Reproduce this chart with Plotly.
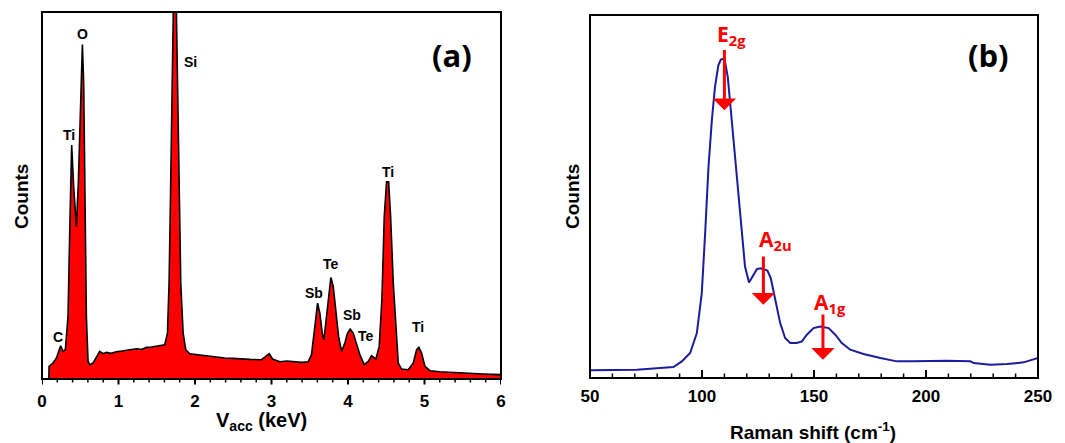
import plotly.graph_objects as go

# ---------------- Panel (a): EDX spectrum ----------------
edx_kev = [0.090, 0.092, 0.144, 0.188, 0.244, 0.275, 0.305, 0.340, 0.362, 0.388, 0.414, 0.449,
           0.475, 0.501, 0.528, 0.545, 0.563, 0.580, 0.602, 0.624, 0.667, 0.711, 0.754, 0.800,
           0.842, 0.900, 0.972, 1.040, 1.103, 1.170, 1.234, 1.300, 1.365, 1.430, 1.496, 1.560,
           1.605, 1.640, 1.661, 1.679, 1.696, 1.714, 1.736, 1.757, 1.775, 1.792, 1.814, 1.845,
           1.879, 1.932, 2.063, 2.170, 2.281, 2.390, 2.499, 2.610, 2.717, 2.869, 2.926, 2.970,
           3.013, 3.109, 3.200, 3.283, 3.392, 3.480, 3.523, 3.567, 3.602, 3.632, 3.663, 3.685,
           3.720, 3.746, 3.776, 3.807, 3.842, 3.877, 3.916, 3.959, 3.994, 4.029, 4.068, 4.112,
           4.156, 4.212, 4.265, 4.308, 4.365, 4.408, 4.443, 4.474, 4.504, 4.531, 4.557, 4.592,
           4.627, 4.657, 4.701, 4.788, 4.853, 4.897, 4.927, 4.962, 5.006, 5.071, 5.200, 5.333,
           5.450, 5.551, 5.650, 5.769, 5.880, 6.000]
edx_counts = [0, 38, 48, 63, 100, 83, 88, 188, 438, 703, 578, 458,
              588, 838, 1005, 888, 538, 188, 53, 43, 48, 68, 83, 76,
              80, 77, 82, 84, 86, 90, 91, 89, 95, 96, 98, 100,
              103, 138, 288, 538, 838, 1103, 1400, 1103, 838, 538, 288, 138,
              88, 76, 72, 68, 66, 63, 62, 60, 59, 58, 68, 76,
              60, 52, 54, 52, 50, 52, 73, 158, 228, 198, 138, 118,
              188, 258, 305, 278, 198, 128, 83, 108, 138, 150, 138, 103,
              73, 43, 53, 70, 60, 98, 238, 488, 593, 593, 488, 288,
              138, 48, 30, 28, 48, 88, 95, 78, 38, 25, 22, 20,
              19, 17, 16, 15, 14, 13]

edx_labels = ["O", "Ti", "Si", "C", "Sb", "Te", "Sb", "Te", "Ti", "Ti"]
edx_label_x = [0.532, 0.353, 1.94, 0.209, 3.554, 3.772, 4.047, 4.23, 4.518, 4.919]
edx_label_y = [1036, 733, 953, 126, 258, 345, 193, 130, 623, 155]

edx_major_ticks = [0, 1, 2, 3, 4, 5, 6]
edx_minor_ticks = [0.2, 0.4, 0.6, 0.8, 1.2, 1.4, 1.6, 1.8, 2.2, 2.4, 2.6, 2.8,
                   3.2, 3.4, 3.6, 3.8, 4.2, 4.4, 4.6, 4.8, 5.2, 5.4, 5.6, 5.8]

# ---------------- Panel (b): Raman spectrum ----------------
raman_shift = [50.0, 60.4, 70.8, 79.8, 87.2, 91.0, 94.7, 97.7, 99.9, 101.4, 102.9, 104.4,
               105.8, 107.3, 108.4, 110.0, 111.5, 113.0, 114.8, 116.3, 117.8, 119.2, 121.0,
               122.7, 124.5, 126.0, 127.4, 129.2, 130.7, 132.7, 134.9, 137.1, 139.4, 142.3,
               144.6, 146.8, 149.8, 152.8, 156.5, 159.5, 162.4, 166.2, 172.1, 179.6, 187.0,
               194.4, 201.9, 209.3, 219.8, 221.3, 228.7, 236.2, 243.6, 250.0]
raman_counts = [23, 23, 25, 29, 33, 50, 75, 135, 255, 435, 635, 775,
                875, 940, 957, 960, 905, 795, 655, 545, 435, 335, 287,
                305, 327, 330, 327, 323, 300, 235, 165, 120, 105, 105,
                110, 130, 150, 155, 150, 130, 105, 85, 72, 60, 50,
                50, 52, 52, 50, 45, 40, 42, 47, 60]

mode_labels = ["E<sub>2g</sub>", "A<sub>2u</sub>", "A<sub>1g</sub>"]
mode_x = [110.0, 127.4, 154.0]
mode_arrow_top = [990, 370, 195]
mode_arrow_tip = [805, 220, 55]
mode_label_x = [113.3, 132.7, 157.2]
mode_label_y = [1030, 415, 225]

raman_major_ticks = [50, 100, 150, 200, 250]
raman_minor_ticks = [60, 70, 80, 90, 110, 120, 130, 140, 160, 170, 180, 190,
                     210, 220, 230, 240]

# ---------------- layout helpers (page offset of 8 px) ----------------
OFF = 8
W, H = 1065 - OFF, 443 - OFF
def px(p):
    return (p - OFF) / W
def py(p):
    return 1 - (p - OFF) / H

BOLD_SANS = "Liberation Sans"

fig = go.Figure()
fig.add_trace(go.Scatter(x=edx_kev, y=edx_counts, mode="lines", fill="tozeroy",
                         fillcolor="#ff0000", line=dict(color="black", width=1.6),
                         xaxis="x", yaxis="y", showlegend=False, hoverinfo="skip"))
fig.add_trace(go.Scatter(x=raman_shift, y=raman_counts, mode="lines",
                         line=dict(color="#1c1c9c", width=2),
                         xaxis="x2", yaxis="y2", showlegend=False, hoverinfo="skip"))

tickfont = dict(family=BOLD_SANS, size=17, color="black", weight="bold")
ax_base = dict(showline=False, showgrid=False, zeroline=False, ticks="")

fig.update_layout(
    template="none",
    width=W, height=H, margin=dict(l=0, r=0, t=0, b=0, pad=0), autosize=False,
    paper_bgcolor="white", plot_bgcolor="white",
    xaxis=dict(domain=[px(42), px(501)], range=[0, 6], tickvals=edx_major_ticks,
               tickfont=tickfont, ticklabelstandoff=10, anchor="y", **ax_base),
    yaxis=dict(domain=[py(379), py(12)], range=[0, 1103], showticklabels=False,
               anchor="x", **ax_base),
    xaxis2=dict(domain=[px(590), px(1038)], range=[50, 250], tickvals=raman_major_ticks,
                tickfont=tickfont, ticklabelstandoff=6, anchor="y2", **ax_base),
    yaxis2=dict(domain=[py(378), py(15)], range=[0, 1091], showticklabels=False,
                anchor="x2", **ax_base),
)

shapes = []
# (axis refs, major ticks, minor ticks, plot height px, major len, minor len, direction)
panels = [("x", "y", edx_major_ticks, edx_minor_ticks, 379 - 12, 5.5, 3.5, -1),
          ("x2", "y2", raman_major_ticks, raman_minor_ticks, 378 - 15, 8, 4.5, 1)]
for xr, yr, majors, minors, hpx, lmaj, lmin, sgn in panels:
    shapes.append(dict(type="rect", xref=f"{xr} domain", yref=f"{yr} domain",
                       x0=0, x1=1, y0=0, y1=1, line=dict(color="black", width=2),
                       fillcolor="rgba(0,0,0,0)", layer="above"))
    for v in majors:
        shapes.append(dict(type="line", xref=xr, yref=f"{yr} domain", x0=v, x1=v,
                           y0=0, y1=sgn * lmaj / hpx, line=dict(color="black", width=2)))
    for v in minors:
        shapes.append(dict(type="line", xref=xr, yref=f"{yr} domain", x0=v, x1=v,
                           y0=0, y1=sgn * lmin / hpx, line=dict(color="black", width=1.5)))

ann = []
for t, x, y in zip(edx_labels, edx_label_x, edx_label_y):
    ann.append(dict(x=x, y=y, xref="x", yref="y", text=t, showarrow=False,
                    xanchor="center", yanchor="middle",
                    font=dict(family=BOLD_SANS, size=14, color="black", weight="bold")))
for t, x, top, tip, lx, ly in zip(mode_labels, mode_x, mode_arrow_top, mode_arrow_tip,
                                  mode_label_x, mode_label_y):
    ann.append(dict(x=x, y=tip, ax=x, ay=top, xref="x2", yref="y2", axref="x2", ayref="y2",
                    text="", showarrow=True, arrowhead=1, arrowsize=1.3, arrowwidth=3,
                    arrowcolor="#ff0000"))
    ann.append(dict(x=lx, y=ly, xref="x2", yref="y2", text=t, showarrow=False,
                    xanchor="center", yanchor="middle",
                    font=dict(family="Open Sans", size=21, color="#ff0000", weight="bold")))

panel_font = dict(family="Open Sans", size=31, color="black", weight="bold")
ann.append(dict(x=px(452), y=py(55), xref="paper", yref="paper", text="(a)",
                xanchor="center", yanchor="middle", showarrow=False, font=panel_font))
ann.append(dict(x=px(988), y=py(55), xref="paper", yref="paper", text="(b)",
                xanchor="center", yanchor="middle", showarrow=False, font=panel_font))

title_font = dict(family=BOLD_SANS, size=19, color="black", weight="bold")
ann.append(dict(x=px(21), y=py(197), xref="paper", yref="paper", text="Counts",
                xanchor="center", yanchor="middle", textangle=-90, showarrow=False,
                font=title_font))
ann.append(dict(x=px(572), y=py(197), xref="paper", yref="paper", text="Counts",
                xanchor="center", yanchor="middle", textangle=-90, showarrow=False,
                font=title_font))
ann.append(dict(x=px(261), y=py(421), xref="paper", yref="paper",
                text="V<sub>acc</sub> (keV)", xanchor="center", yanchor="middle",
                showarrow=False, font=dict(family=BOLD_SANS, size=20, color="black", weight="bold")))
ann.append(dict(x=px(813), y=py(431), xref="paper", yref="paper",
                text="Raman shift (cm<sup>-1</sup>)", xanchor="center", yanchor="middle",
                showarrow=False, font=title_font))

fig.update_layout(annotations=ann, shapes=shapes)
fig.write_html("out.html")
